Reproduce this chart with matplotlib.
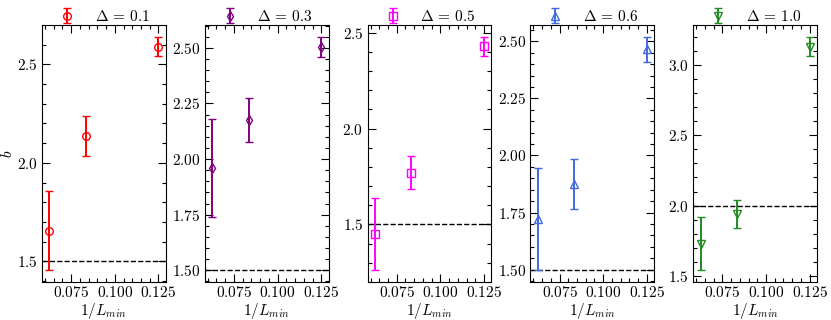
import matplotlib
matplotlib.use("Agg")
import matplotlib.pyplot as plt
from matplotlib.ticker import MultipleLocator, AutoMinorLocator

# Fonte tipo LaTeX
plt.rcParams['font.family'] = 'serif'
plt.rcParams['font.serif'] = ['cmr10']
plt.rcParams['mathtext.fontset'] = 'cm'
plt.rcParams['axes.formatter.use_mathtext'] = True
plt.rcParams['font.size'] = 11

# Veri
inv_L = [1 / 16, 1 / 12, 1 / 8]
deltas = ["0.1", "0.3", "0.5", "0.6", "1.0"]
b_01 = [1.655, 2.137, 2.590]
e_01 = [0.200, 0.103, 0.050]
b_03 = [1.960, 2.175, 2.505]
e_03 = [0.220, 0.100, 0.045]
b_05 = [1.450, 1.770, 2.430]
e_05 = [0.190, 0.085, 0.050]
b_06 = [1.722, 1.875, 2.465]
e_06 = [0.225, 0.110, 0.055]
b_10 = [1.730, 1.940, 3.130]
e_10 = [0.190, 0.100, 0.070]
b_values = [b_01, b_03, b_05, b_06, b_10]
b_errors = [e_01, e_03, e_05, e_06, e_10]
ref_lines = [1.5, 1.5, 1.5, 1.5, 2.0]

colors = ['red', 'purple', 'magenta', 'royalblue', 'forestgreen']
markers = ['o', 'd', 's', '^', 'v']
major_y = [0.5, 0.25, 0.5, 0.25, 0.5]

fig, axes = plt.subplots(1, 5, figsize=(8.31, 3.2), dpi=100)
fig.subplots_adjust(left=42 / 831, right=817 / 831, top=1 - 25 / 320,
                    bottom=1 - 282 / 320, wspace=0.315)

xlim = (0.0583, 0.1292)

for i, ax in enumerate(axes):
    ax.plot(xlim, [ref_lines[i], ref_lines[i]], 'k--', lw=1.0)
    ax.errorbar(inv_L, b_values[i], yerr=b_errors[i], fmt=markers[i],
                color=colors[i], mfc='none', ms=5.5, mew=1.0,
                elinewidth=1.4, capsize=3.2, capthick=1.4,
                label=r'$\Delta\,=\,%s$' % deltas[i])
    ax.set_xlim(xlim)
    ax.xaxis.set_major_locator(MultipleLocator(0.025))
    ax.xaxis.set_minor_locator(AutoMinorLocator(5))
    ax.yaxis.set_major_locator(MultipleLocator(major_y[i]))
    ax.yaxis.set_minor_locator(AutoMinorLocator(5))
    ax.tick_params(which='both', direction='in', top=True, right=True)
    ax.tick_params(which='major', length=5.5, width=0.8)
    ax.tick_params(which='minor', length=3, width=0.8)
    ax.tick_params(axis='x', pad=2)
    ax.tick_params(axis='y', pad=3)
    for s in ax.spines.values():
        s.set_linewidth(0.8)
    ax.set_xlabel(r'$1/L_{min}$', labelpad=1)
    ax.legend(loc='lower center', bbox_to_anchor=(0.5, 0.98), frameon=False,
              handletextpad=1.2, borderaxespad=0.0, handlelength=1.2)

axes[0].set_ylabel(r'$b$', labelpad=1)

plt.savefig('out.png', dpi=100)
